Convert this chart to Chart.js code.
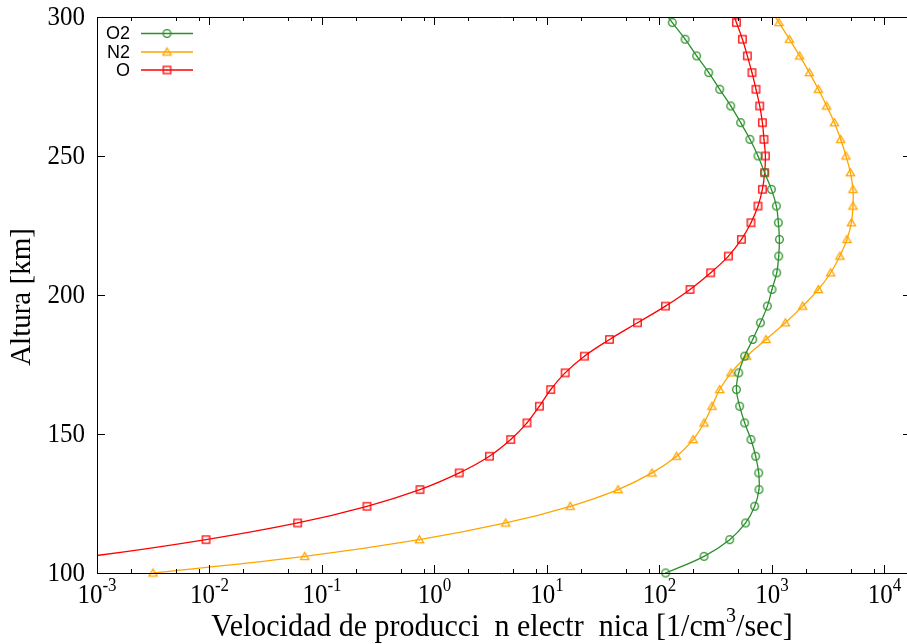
<!DOCTYPE html>
<html><head><meta charset="utf-8">
<script src="https://cdn.jsdelivr.net/npm/chart.js@4"></script>
<style>html,body{margin:0;padding:0;background:#fff}canvas{display:block}</style>
</head><body>
<canvas id="c" width="907" height="644"></canvas>
<script>
// ---- data ----
const heights = [100,106,112,118,124,130,136,142,148,154,160,166,172,178,184,190,196,202,208,214,220,226,232,238,244,250,256,262,268,274,280,286,292,298,304];
const o2Values = [113.5,249,421,583,702,766,762,716,651,572,516,483,506,572,674,789,910,1000,1102,1148,1164,1140,1094,988,861,751,637,527,430,343,274,214,169,130,100];
const n2Values = [0.00315,0.0702,0.735,4.30,16.1,42.8,85.8,142,199,249,293,343,432,596,885,1315,1875,2584,3326,4018,4642,5082,5248,5248,4977,4549,4080,3589,3063,2584,2149,1763,1428,1154,935];
const oValues = [0.00004,0.00088,0.00931,0.0608,0.251,0.743,1.66,3.08,4.76,6.64,8.56,10.8,14.5,21.5,36.0,63.7,113,187,285,410,535,651,751,822,861,874,849,822,778,721,664,604,546,483,427];
const seriesNames = ['O2','N2','O'];
const xTickExponents = [-3,-2,-1,0,1,2,3,4];
const xMinorMultipliers = [2,5,8];
const yTickValues = [100,150,200,250,300];
const xTitleParts = ['Velocidad de producci  n electr  nica [1/cm', '3', '/sec]'];
const yTitle = 'Altura [km]';

const colors = ['#2a8f2a','#ffa500','#ff0000'];
const kinds = ['circle','triangle','square'];

function makePoint(kind, color){
  const c = document.createElement('canvas');
  c.width = 13; c.height = 13;
  const g = c.getContext('2d');
  g.strokeStyle = color; g.fillStyle = color; g.lineWidth = 1.3;
  g.beginPath();
  if (kind === 'circle') {
    g.arc(6.5, 6.5, 3.8, 0, Math.PI*2);
  } else if (kind === 'square') {
    g.rect(2.8, 2.8, 7.4, 7.4);
  } else {
    g.moveTo(6.5, 2.6); g.lineTo(10.6, 9.6); g.lineTo(2.4, 9.6); g.closePath();
  }
  g.stroke();
  g.fillRect(6, kind === 'triangle' ? 6.8 : 6, 1, 1);
  return c;
}

function toPoints(vals){ return vals.map((v,i)=>({x:v, y:heights[i]})); }
const seriesValues = [o2Values, n2Values, oValues];
const pointImgs = kinds.map((k,i)=>makePoint(k, colors[i]));

const datasets = seriesNames.map((name,i)=>({
  label: name,
  data: toPoints(seriesValues[i]),
  borderColor: colors[i],
  backgroundColor: colors[i],
  borderWidth: 1.3,
  pointStyle: pointImgs[i],
  pointRadius: 4,
  showLine: true,
  tension: 0.4,
  clip: {left:0, top:0, right:6, bottom:6}
}));

const SERIF = '"Liberation Serif", "Times New Roman", serif';
const SANS = '"Liberation Sans", Arial, sans-serif';
const SY = 1.12;

function txt(ctx, s, x, y, font, align, base, sy){
  ctx.save();
  ctx.font = font; ctx.textAlign = align; ctx.textBaseline = base;
  ctx.translate(x, y); ctx.scale(1, sy || 1);
  ctx.fillText(s, 0, 0);
  ctx.restore();
}

const frame = {
  id: 'frame',
  afterDraw(chart){
    const ctx = chart.ctx, a = chart.chartArea;
    const xs = chart.scales.x, ys = chart.scales.y;
    const R = chart.width; // frame's right edge sits at the picture's edge
    ctx.save();
    ctx.strokeStyle = '#000'; ctx.fillStyle = '#000'; ctx.lineWidth = 1;
    ctx.beginPath();
    ctx.moveTo(a.left+0.5, a.top+0.5); ctx.lineTo(R, a.top+0.5);
    ctx.moveTo(a.left+0.5, a.top+0.5); ctx.lineTo(a.left+0.5, a.bottom+0.5);
    ctx.moveTo(a.left+0.5, a.bottom+0.5); ctx.lineTo(R, a.bottom+0.5);
    ctx.stroke();
    ctx.beginPath();
    xTickExponents.forEach(e=>{
      const px = Math.round(xs.getPixelForValue(Math.pow(10,e)))+0.5;
      ctx.moveTo(px, a.bottom); ctx.lineTo(px, a.bottom-8);
      ctx.moveTo(px, a.top); ctx.lineTo(px, a.top+8);
      xMinorMultipliers.forEach(m=>{
        const q = Math.round(xs.getPixelForValue(m*Math.pow(10,e)))+0.5;
        if (q < R) {
          ctx.moveTo(q, a.bottom); ctx.lineTo(q, a.bottom-4);
          ctx.moveTo(q, a.top); ctx.lineTo(q, a.top+4);
        }
      });
    });
    yTickValues.forEach(v=>{
      const py = Math.round(ys.getPixelForValue(v))+0.5;
      ctx.moveTo(a.left, py); ctx.lineTo(a.left+8, py);
      ctx.moveTo(R, py); ctx.lineTo(R-4, py);
    });
    ctx.stroke();
    yTickValues.forEach(v=>{
      txt(ctx, String(v), a.left-12, ys.getPixelForValue(v)+1, '25px '+SERIF, 'right', 'middle', SY);
    });
    xTickExponents.forEach(e=>{
      const px = xs.getPixelForValue(Math.pow(10,e));
      ctx.font = '25px '+SERIF;
      const w1 = ctx.measureText('10').width;
      ctx.font = '17px '+SERIF;
      const es = String(e);
      const w2 = ctx.measureText(es).width;
      const x0 = px - (w1+w2)/2;
      txt(ctx, '10', x0, 603, '25px '+SERIF, 'left', 'alphabetic', SY);
      txt(ctx, es, x0+w1, 591, '17px '+SERIF, 'left', 'alphabetic', SY);
    });
    // x title
    ctx.font = '30px '+SERIF;
    const t1 = ctx.measureText(xTitleParts[0]).width;
    const t3 = ctx.measureText(xTitleParts[2]).width;
    ctx.font = '20px '+SERIF;
    const t2 = ctx.measureText(xTitleParts[1]).width;
    const tx = 502 - (t1+t2+t3)/2;
    txt(ctx, xTitleParts[0], tx, 636, '30px '+SERIF, 'left', 'alphabetic', 1.05);
    txt(ctx, xTitleParts[1], tx+t1, 622, '20px '+SERIF, 'left', 'alphabetic', 1.05);
    txt(ctx, xTitleParts[2], tx+t1+t2, 636, '30px '+SERIF, 'left', 'alphabetic', 1.05);
    // y title
    ctx.save();
    ctx.translate(22, 297); ctx.rotate(-Math.PI/2); ctx.scale(1, 1.05);
    ctx.font = '29px '+SERIF; ctx.textAlign = 'center'; ctx.textBaseline = 'middle';
    ctx.fillText(yTitle, 0, 0);
    ctx.restore();
    // legend
    const ly = [33.5, 52, 70];
    seriesNames.forEach((n,i)=>{
      txt(ctx, n, 130, ly[i]+1, '18px '+SANS, 'right', 'middle', 1);
      ctx.strokeStyle = colors[i]; ctx.lineWidth = 1.3;
      ctx.beginPath(); ctx.moveTo(141, ly[i]); ctx.lineTo(193, ly[i]); ctx.stroke();
      ctx.drawImage(pointImgs[i], 167-6.5, ly[i]-6.5);
    });
    ctx.restore();
  }
};

new Chart(document.getElementById('c'), {
  type: 'scatter',
  data: { datasets },
  options: {
    responsive: false,
    animation: false,
    layout: { padding: { left: 97, top: 17, right: 5, bottom: 71 } },
    elements: { line: { capBezierPoints: false } },
    scales: {
      x: { type: 'logarithmic', min: 0.001, max: 14230, display: false },
      y: { type: 'linear', min: 100, max: 300, display: false }
    },
    plugins: { legend: { display: false }, tooltip: { enabled: false } }
  },
  plugins: [frame]
});
</script>
</body></html>
